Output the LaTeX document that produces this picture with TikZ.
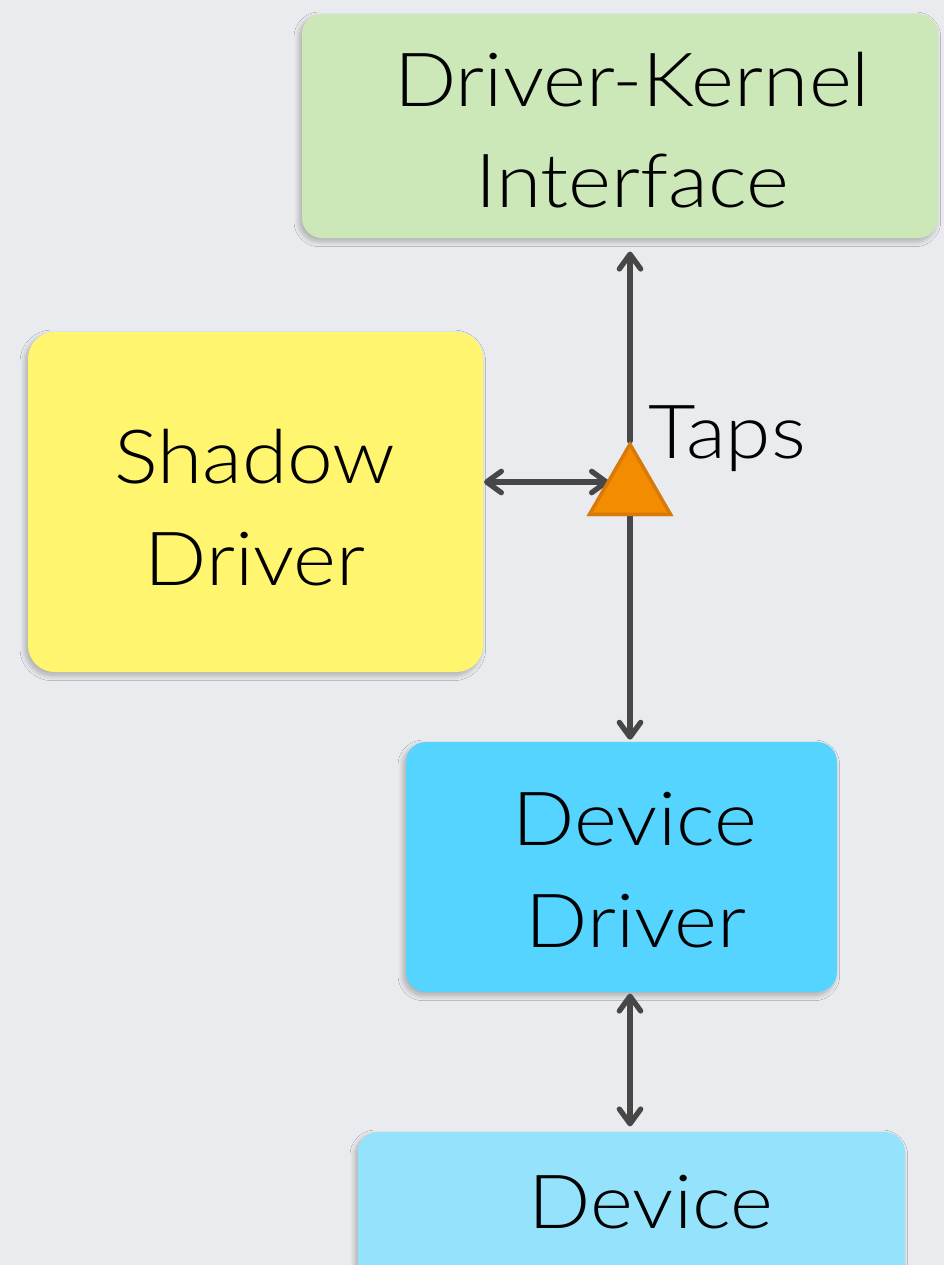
\documentclass[tikz,border=0pt]{standalone}
\usepackage{fontspec}
\setmainfont{Lato}[UprightFont={* Light},FakeStretch=1.1]
\usetikzlibrary{arrows.meta,shapes.geometric,shadows.blur}
\definecolor{bgc}{HTML}{EAEBEE}
\definecolor{greenc}{HTML}{CDE8B8}
\definecolor{yellowc}{HTML}{FFF56E}
\definecolor{ddc}{HTML}{55D4FF}
\definecolor{devc}{HTML}{94E2FC}
\definecolor{orangec}{HTML}{F38C00}
\definecolor{orangeb}{HTML}{D87A0A}
\definecolor{arrc}{HTML}{474747}
\tikzset{
  box/.style={rounded corners=15pt, inner sep=0pt,
    blur shadow={shadow xshift=-2pt, shadow yshift=-2.5pt, shadow blur radius=4pt, shadow blur steps=12, shadow opacity=28}},
  lbl/.style={anchor=base, inner sep=0pt, font=\fontsize{56}{76}\selectfont},
  mytip/.tip={Straight Barb[length=11pt,width=16pt,round]},
  conn/.style={draw=arrc, line width=4pt, line cap=round, mytip-mytip},
  conn1/.style={draw=arrc, line width=4pt, line cap=round, -mytip},
  tapshape/.style={regular polygon, regular polygon sides=3, minimum size=70pt, inner sep=0pt,
    fill=orangec, draw=orangeb, line width=2.5pt},
}
\begin{document}
\begin{tikzpicture}[x=0.75pt,y=-0.75pt]
\useasboundingbox (0,0) rectangle (944,1265);
\fill[bgc] (0,0) rectangle (944,1265);
\begin{scope}
\clip (0,0) rectangle (944,1265);
\node[box, fill=greenc, minimum width=477pt, minimum height=168pt] (dki) at (620,126) {};
\node[box, fill=yellowc, minimum width=341.25pt, minimum height=255pt, rounded corners=20pt] (shadow) at (255.5,502) {};
\node[box, fill=ddc, minimum width=323.25pt, minimum height=187.5pt] (dd) at (621.5,867) {};
\node[box, fill=devc, minimum width=410.25pt, minimum height=126pt] (dev) at (631.5,1216) {};
\end{scope}

\node[lbl] (t1) at (632,106) {Driver-Kernel};
\node[lbl] (t2) at (632,207) {Interface};
\node[lbl] (t3) at (255,483) {Shadow};
\node[lbl] (t4) at (255,585) {Driver};
\node[lbl] (t5) at (635,845) {Device};
\node[lbl] (t6) at (636,947) {Driver};
\node[lbl] (t7) at (651,1228) {Device};
\node[lbl, anchor=base west] (taps) at (648,458) {Taps};

\node[tapshape] (tri) at (630,491) {};
\coordinate (hl) at (484,482);
\coordinate (hr) at (609,482);

\draw[conn1] (tri.corner 1) -- ([yshift=-10pt]dki.south -| tri.corner 1);
\draw[conn1] (tri.side 2) -- ([yshift=1.5pt]dd.north -| tri.side 2);
\draw[conn] ([yshift=-1pt]dd.south -| tri.side 2) -- ([yshift=4pt]dev.north -| tri.side 2);
\draw[conn] (hl) -- (hr);
\node[tapshape] at (tri) {};
\end{tikzpicture}
\end{document}
